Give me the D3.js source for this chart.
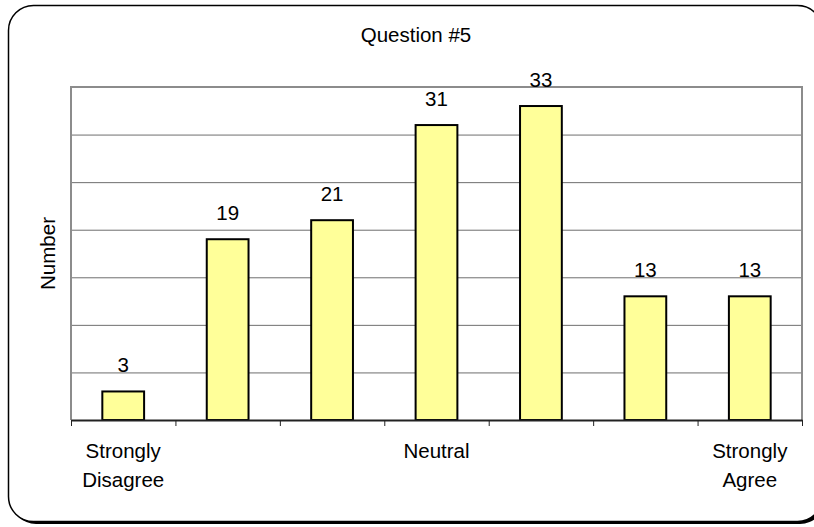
<!DOCTYPE html>
<html>
<head>
<meta charset="utf-8">
<script src="https://cdn.jsdelivr.net/npm/d3@7"></script>
<style>
  html, body { margin: 0; padding: 0; background: #fff; }
  svg text { font-family: "Liberation Sans", Arial, sans-serif; fill: #000; }
</style>
</head>
<body>
<div id="chart"></div>
<script>
// data
let categories = ["Strongly Disagree", "", "", "Neutral", "", "", "Strongly Agree"];
let counts = [3, 19, 21, 31, 33, 13, 13];
let chartTitle = "Question #5";
let yLabel = "Number";
let yMax = 35;
let yStep = 5;

let width = 814, height = 527;
let plot = { left: 71, right: 802, top: 87, bottom: 420 };

let svg = d3.select("#chart").append("svg")
  .attr("width", width)
  .attr("height", height);

// frame with drop shadow
svg.append("rect")
  .attr("x", 11).attr("y", 8)
  .attr("width", 814).attr("height", 516)
  .attr("rx", 25).attr("ry", 25)
  .attr("fill", "#000");
svg.append("rect")
  .attr("x", 8.5).attr("y", 5.5)
  .attr("width", 814).attr("height", 516)
  .attr("rx", 25).attr("ry", 25)
  .attr("fill", "#fff")
  .attr("stroke", "#000")
  .attr("stroke-width", 1.5);

let idx = d3.range(categories.length);

let xBand = d3.scaleBand().domain(idx).range([plot.left, plot.right]);
let xEdge = d3.scaleLinear().domain([0, categories.length]).range([plot.left, plot.right]);
let yScale = d3.scaleLinear().domain([0, yMax]).range([plot.bottom, plot.top]);

// gridlines
let grid = svg.append("g")
  .attr("transform", "translate(" + plot.left + ",0)")
  .call(d3.axisLeft(yScale)
    .tickValues(d3.range(yStep, yMax, yStep))
    .tickSize(-(plot.right - plot.left))
    .tickFormat(""));
grid.select(".domain").remove();
grid.selectAll(".tick line").attr("stroke", "#6e6e6e").attr("stroke-width", 1);

// plot area border (top, left, right)
svg.append("path")
  .attr("d", "M" + plot.left + "," + plot.bottom + "V" + plot.top + "H" + plot.right + "V" + plot.bottom)
  .attr("fill", "none")
  .attr("stroke", "#8c8c8c")
  .attr("stroke-width", 2);

// bars
let barW = xBand.bandwidth() * 0.4;
svg.append("g").selectAll("rect")
  .data(counts)
  .enter().append("rect")
  .attr("x", (d, i) => xBand(i) + (xBand.bandwidth() - barW) / 2)
  .attr("y", d => yScale(d))
  .attr("width", barW)
  .attr("height", d => yScale(0) - yScale(d))
  .attr("fill", "#ffff99")
  .attr("stroke", "#000")
  .attr("stroke-width", 2);

// value labels
svg.append("g").selectAll("text")
  .data(counts)
  .enter().append("text")
  .attr("x", (d, i) => xBand(i) + xBand.bandwidth() / 2)
  .attr("y", d => yScale(d) - 19)
  .attr("text-anchor", "middle")
  .attr("font-size", 20.5)
  .text(d => d);

// x axis with ticks on category edges
let xAxis = svg.append("g")
  .attr("transform", "translate(0," + plot.bottom + ")")
  .call(d3.axisBottom(xEdge)
    .tickValues(d3.range(categories.length + 1))
    .tickSize(6)
    .tickSizeOuter(0)
    .tickFormat(""));
xAxis.select(".domain").attr("stroke", "#222").attr("stroke-width", 2);
xAxis.selectAll(".tick line").attr("stroke", "#222").attr("stroke-width", 1);

// category labels (split on spaces into lines)
svg.append("g").selectAll("text")
  .data(categories)
  .enter().append("text")
  .attr("x", (d, i) => xBand(i) + xBand.bandwidth() / 2)
  .attr("y", 458)
  .attr("text-anchor", "middle")
  .attr("font-size", 20.5)
  .each(function(d) {
    let words = d ? d.split(" ") : [];
    d3.select(this).selectAll("tspan")
      .data(words)
      .enter().append("tspan")
      .attr("x", d3.select(this).attr("x"))
      .attr("dy", (w, j) => j === 0 ? 0 : 29)
      .text(w => w);
  });

// title
svg.append("text")
  .attr("x", 416)
  .attr("y", 42)
  .attr("text-anchor", "middle")
  .attr("font-size", 20.5)
  .text(chartTitle);

// y axis title
svg.append("text")
  .attr("transform", "translate(55," + ((plot.top + plot.bottom) / 2) + ") rotate(-90)")
  .attr("text-anchor", "middle")
  .attr("font-size", 20.5)
  .text(yLabel);
</script>
</body>
</html>
